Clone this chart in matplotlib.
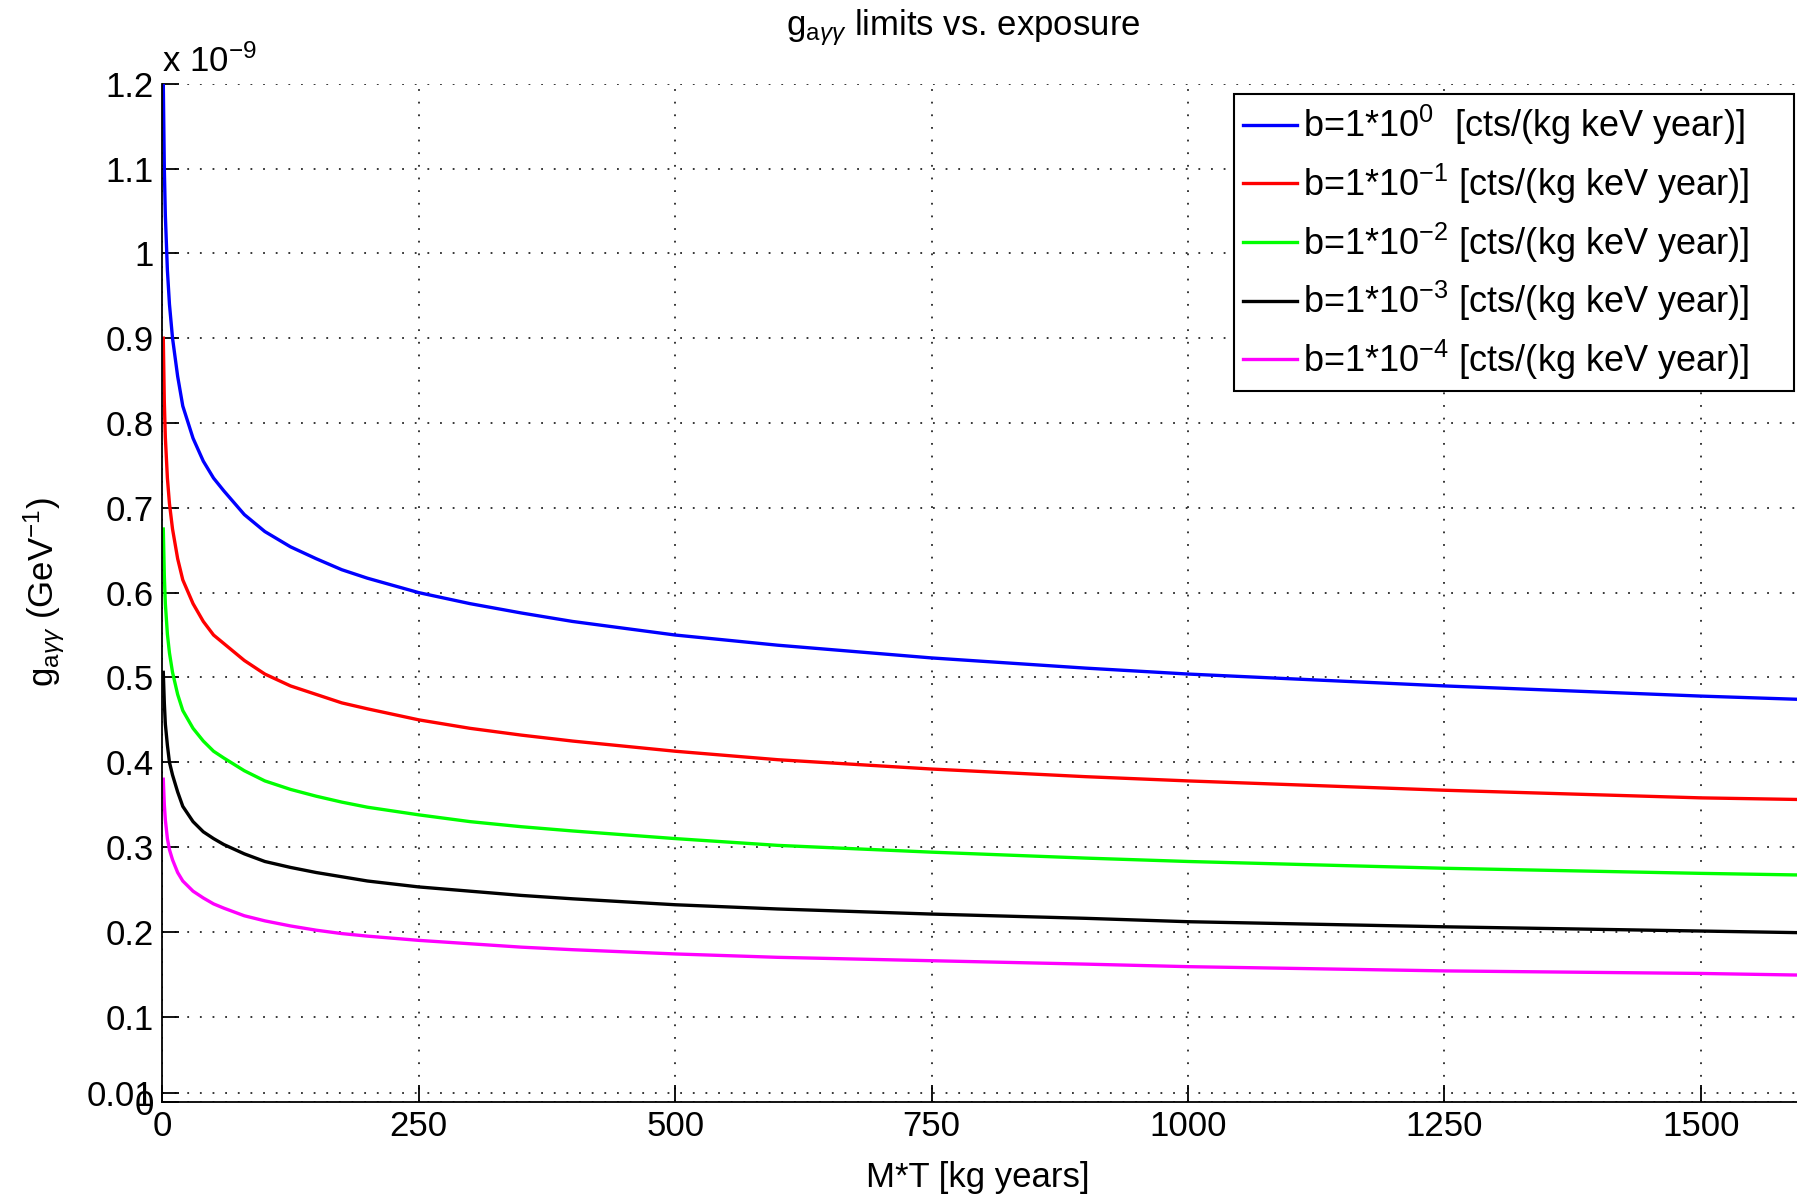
import matplotlib
matplotlib.use("Agg")
import matplotlib.pyplot as plt

plt.rcParams['font.family'] = ['Liberation Sans', 'DejaVu Sans']
plt.rcParams['mathtext.fontset'] = 'custom'
plt.rcParams['mathtext.rm'] = 'Liberation Sans'
plt.rcParams['mathtext.it'] = 'Liberation Sans:italic'

# exposure M*T [kg years]
exposure = [1, 2, 3, 5, 7, 10, 15, 20, 30, 40, 50, 60, 80, 100, 125, 150, 175, 200,
            250, 300, 350, 400, 500, 600, 750, 900, 1000, 1250, 1500, 1600]

# g_agg limits in units of 1e-9 GeV^-1
g_b0 = [1.20, 1.10, 1.045, 0.98, 0.94, 0.90, 0.855, 0.82, 0.782, 0.755, 0.735, 0.72, 0.692, 0.672,
        0.654, 0.64, 0.627, 0.617, 0.600, 0.587, 0.576, 0.566, 0.550, 0.538, 0.523, 0.511, 0.504,
        0.490, 0.478, 0.474]
g_b1 = [0.90, 0.825, 0.783, 0.735, 0.705, 0.675, 0.64, 0.615, 0.587, 0.566, 0.55, 0.54, 0.52, 0.504,
        0.49, 0.48, 0.47, 0.463, 0.450, 0.44, 0.432, 0.425, 0.413, 0.403, 0.392, 0.383, 0.378,
        0.367, 0.358, 0.356]
g_b2 = [0.675, 0.62, 0.587, 0.551, 0.529, 0.506, 0.48, 0.461, 0.44, 0.425, 0.413, 0.405, 0.39, 0.378,
        0.368, 0.36, 0.353, 0.347, 0.338, 0.33, 0.324, 0.319, 0.31, 0.302, 0.294, 0.287, 0.283,
        0.275, 0.269, 0.267]
g_b3 = [0.506, 0.47, 0.445, 0.42, 0.40, 0.385, 0.365, 0.348, 0.33, 0.318, 0.31, 0.303, 0.292, 0.283,
        0.276, 0.27, 0.265, 0.26, 0.253, 0.248, 0.243, 0.239, 0.232, 0.227, 0.221, 0.216, 0.212,
        0.206, 0.201, 0.199]
g_b4 = [0.38, 0.35, 0.332, 0.31, 0.297, 0.285, 0.27, 0.26, 0.248, 0.24, 0.233, 0.228, 0.219, 0.213,
        0.207, 0.202, 0.198, 0.195, 0.19, 0.186, 0.182, 0.179, 0.174, 0.17, 0.166, 0.162, 0.159,
        0.154, 0.151, 0.149]

series = [g_b0, g_b1, g_b2, g_b3, g_b4]
exponents = ['0', '-1', '-2', '-3', '-4']
colors = ['#0000ff', '#ff0000', '#00ff00', '#000000', '#ff00ff']

xticks = [0, 250, 500, 750, 1000, 1250, 1500]
yticks = [0, 0.01, 0.1, 0.2, 0.3, 0.4, 0.5, 0.6, 0.7, 0.8, 0.9, 1.0, 1.1, 1.2]
ytick_labels = ['0', '0.01', '0.1', '0.2', '0.3', '0.4', '0.5', '0.6', '0.7', '0.8', '0.9', '1', '1.1', '1.2']

fig = plt.figure(figsize=(17.97, 11.96), dpi=100)
ax = fig.add_axes([0.0903, 0.079, 0.9133, 0.851])

for g, e, c in zip(series, exponents, colors):
    sp = '  ' if e == '0' else ' '
    ax.plot(exposure, g, color=c, linewidth=2.4,
            label='b=1*10$^{%s}$%s[cts/(kg keV year)]' % (e, sp))

ax.set_xlim(0, 1600)
ax.set_ylim(0, 1.2)
ax.set_xticks(xticks)
ax.set_xticklabels([str(t) for t in xticks])
ax.set_yticks(yticks)
ax.set_yticklabels(ytick_labels)
ax.tick_params(direction='in', length=12, width=1.3, labelsize=25, pad=6, colors='black')
ax.grid(True, color='0.15', linestyle=(0, (1, 6)), linewidth=1.3)

ax.spines['top'].set_visible(False)
ax.spines['right'].set_visible(False)
ax.spines['left'].set_linewidth(1.3)
ax.spines['bottom'].set_linewidth(1.3)

ax.text(0.0, 1.005, r'x 10$^{-9}$', transform=ax.transAxes, fontsize=25, ha='left', va='bottom')

ax.set_title(r'$\mathrm{g}_{\mathrm{a}\gamma\gamma}$ limits vs. exposure', fontsize=25, x=0.488, pad=35)
ax.set_xlabel('M*T [kg years]', fontsize=25)
ax.xaxis.set_label_coords(0.497, -0.058)
ax.set_ylabel(r'$\mathrm{g}_{\mathrm{a}\gamma\gamma}$ (GeV$^{-1}$)', fontsize=25)
ax.yaxis.set_label_coords(-0.058, 0.5)

# legend box stretched to the right edge like the original
leg = ax.legend(loc='upper left', bbox_to_anchor=(0.6867, 0.5, 0.3117, 0.4214), mode='expand',
                bbox_transform=fig.transFigure,
                fontsize=26, handlelength=1.5, handletextpad=0.15, labelspacing=0.4,
                borderpad=0.25, borderaxespad=0, fancybox=False, framealpha=1)
leg.get_frame().set_edgecolor('black')
leg.get_frame().set_linewidth(1.5)

fig.savefig('out.png', dpi=100)
